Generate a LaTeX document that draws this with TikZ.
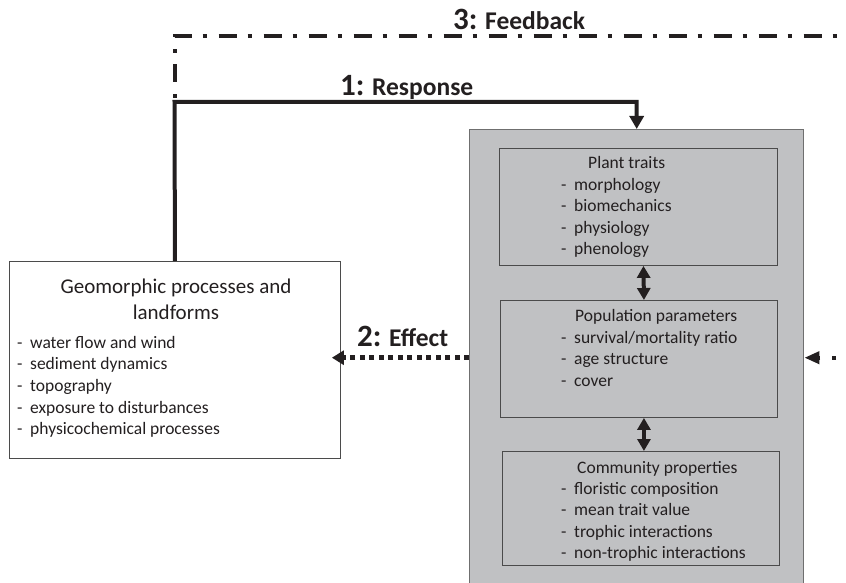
\documentclass[tikz,border=0pt]{standalone}
\usepackage{fontspec}
\setmainfont{Carlito}
\usetikzlibrary{arrows.meta}
\definecolor{shellgray}{RGB}{192,193,195}
\definecolor{framegray}{RGB}{75,75,75}
\definecolor{inkgray}{RGB}{35,31,32}
\newcommand{\itm}[1]{\makebox[13pt][l]{-}#1}

\begin{document}
\begin{tikzpicture}[
    x=1pt, y=-1pt,
    box/.style={draw=framegray, line width=0.9pt, anchor=north west, inner sep=0pt},
    list/.style={font=\fontsize{17.5}{21.6}\selectfont, align=left, inner sep=0pt, text=inkgray},
    lbl/.style={font=\fontsize{25.5}{28}\selectfont\bfseries, inner sep=0pt, text=inkgray, anchor=base west},
    resp/.style={draw=inkgray, line width=4pt, -{Triangle[length=13pt,width=14pt]}},
    fback/.style={draw=inkgray, line width=4pt, dash pattern=on 18pt off 11pt on 4pt off 12pt,
        dash phase=25pt, -{Triangle[length=15pt,width=12pt]}},
    effect/.style={draw=inkgray, line width=5pt, dash pattern=on 5pt off 4.5pt,
        -{Triangle[length=12pt,width=14pt]}, shorten >=-9pt},
    dbl/.style={draw=inkgray, line width=4pt, {Triangle[length=12pt,width=13pt]}-{Triangle[length=12pt,width=13pt]}}
]

\useasboundingbox (0,0) rectangle (846,583);
\clip (0,0) rectangle (846,583);

\node[box, fill=shellgray, draw=framegray!80, line width=1.4pt,
    minimum width=334pt, minimum height=456pt] (shell) at (469,129) {};

\node[box, minimum width=278pt, minimum height=117pt] (traits) at (499,148) {};
\node[box, minimum width=277pt, minimum height=117pt] (popul) at (500,300) {};
\node[box, minimum width=277pt, minimum height=114pt] (commun) at (502,451) {};
\node[box, fill=white, minimum width=331pt, minimum height=197pt] (geo) at (9,261) {};

\node[list, anchor=base, align=center, font=\fontsize{21}{26}\selectfont] (geotitle) at (176,319)
    {Geomorphic processes and\\landforms};
\node[list, anchor=base west, font=\fontsize{17.5}{21.7}\selectfont] (geolist) at (17,434.8)
    {\itm{water flow and wind}\\\itm{sediment dynamics}\\\itm{topography}\\
     \itm{exposure to disturbances}\\\itm{physicochemical processes}};

\node[list, anchor=base west] (traitstitle) at (588,168) {Plant traits};
\node[list, anchor=base west] (traitslist) at (561,254.8)
    {\itm{morphology}\\\itm{biomechanics}\\\itm{physiology}\\\itm{phenology}};

\node[list, anchor=base west] (popultitle) at (575,321) {Population parameters};
\node[list, anchor=base west] (popullist) at (561,386.2)
    {\itm{survival/mortality ratio}\\\itm{age structure}\\\itm{cover}};

\node[list, anchor=base west] (communtitle) at (577,473) {Community properties};
\node[list, anchor=base west] (communlist) at (561,558.8)
    {\itm{floristic composition}\\\itm{mean trait value}\\\itm{trophic interactions}\\
     \itm{non-trophic interactions}};

\node[lbl] (fbl) at (453,30) {{\fontsize{31}{31}\selectfont 3:} Feedback};
\node[lbl] (rsl) at (340,96) {{\fontsize{31}{31}\selectfont 1:} Response};
\node[lbl] (efl) at (357,346) {{\fontsize{31}{31}\selectfont 2:} Effect};

\coordinate (resptop) at (174.5,102);
\coordinate (fbtop) at (174.5,36);
\coordinate (fbfar) at (876,36);

\draw[fback] (resptop) -- (fbtop) -- (fbfar) |- (shell.east);
\draw[resp] (geo.north) -- (resptop) -| (shell.north);
\draw[effect] (shell.west) -- (shell.west -| geo.east);

\draw[dbl] ([xshift=5pt]traits.south) -- ([xshift=5pt]popul.north);
\draw[dbl] ([xshift=5pt]popul.south) -- ([xshift=5pt]popul.south |- commun.north);

\end{tikzpicture}
\end{document}
